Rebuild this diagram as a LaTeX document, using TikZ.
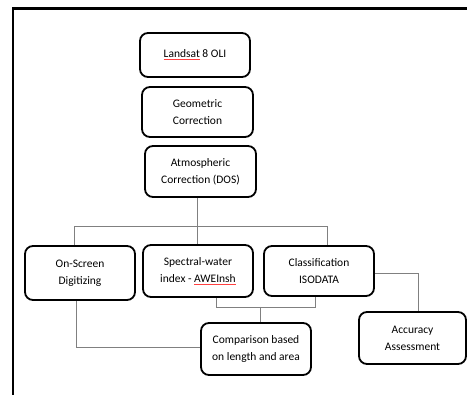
\documentclass[tikz,border=0pt]{standalone}
\usepackage{fontspec}
\setmainfont{Carlito}
\usetikzlibrary{calc}
\newlength\ulw
\newcommand{\redul}[1]{\settowidth{\ulw}{#1}\rlap{\color{red!75}\rule[-2.4pt]{\ulw}{0.8pt}}#1}
\tikzset{
  box/.style={draw=black, line width=1.8pt, rounded corners=8pt, fill=white,
    align=center, font=\fontsize{11.5}{17}\selectfont, inner sep=2pt},
  conn/.style={draw=black!50, line width=0.9pt}
}
\begin{document}
\begin{tikzpicture}[x=1pt,y=-1pt]
\useasboundingbox (0,0) rectangle (467,395);
\fill[white] (0,0) rectangle (467,395);
\draw[line width=2.4pt] (13,420) -- (13,8.5) -- (480,8.5);
% boxes
\node[box, minimum width=110pt, minimum height=44pt] (land) at (195,55) {\redul{Landsat} 8 OLI};
\node[box, minimum width=111pt, minimum height=50pt] (geo) at (197.5,112) {Geometric\\Correction};
\node[box, minimum width=111pt, minimum height=51pt] (atm) at (200.5,171.5) {Atmospheric\\Correction (DOS)};
\node[box, minimum width=110pt, minimum height=54pt] (ons) at (80,273) {On-Screen\\Digitizing};
\node[box, minimum width=110pt, minimum height=52pt] (spec) at (198,271) {Spectral-water\\index - \redul{AWEInsh}};
\node[box, minimum width=110pt, minimum height=50pt] (cls) at (319,271) {Classification\\ISODATA};
\node[box, minimum width=110pt, minimum height=52pt] (comp) at (256,349) {Comparison based\\on length and area};
\node[box, minimum width=107pt, minimum height=52pt] (acc) at (412.5,338) {Accuracy\\Assessment};
% bus coordinates
\coordinate (busL) at (74,226);
\coordinate (busR) at (327,226);
\coordinate (busA) at (197,226);
\coordinate (lowL) at (216,307);
\coordinate (lowR) at (315,307);
\coordinate (lowM) at (260,307);
\coordinate (onsC) at (76,347);
\coordinate (accC) at (418,273);
% connectors
\draw[conn] ($(land.south)+(-3,0)$) -- ($(land.south)+(-3,0)$ |- geo.north);
\draw[conn] ($(geo.south)+(-3.5,0)$) -- ($(geo.south)+(-3.5,0)$ |- atm.north);
\draw[conn] (atm.south -| busA) -- (busA);
\draw[conn] (busL |- ons.north) -- (busL) -- (busR) -- (busR |- cls.north);
\draw[conn] (busA) -- (busA |- spec.north);
\draw[conn] (lowL |- spec.south) -- (lowL) -- (lowR) -- (lowR |- cls.south);
\draw[conn] (lowM) -- (lowM |- comp.north);
\draw[conn] (onsC |- ons.south) -- (onsC) -- (onsC -| comp.west);
\draw[conn] (cls.east |- accC) -- (accC) -- (accC |- acc.north);
\end{tikzpicture}
\end{document}
